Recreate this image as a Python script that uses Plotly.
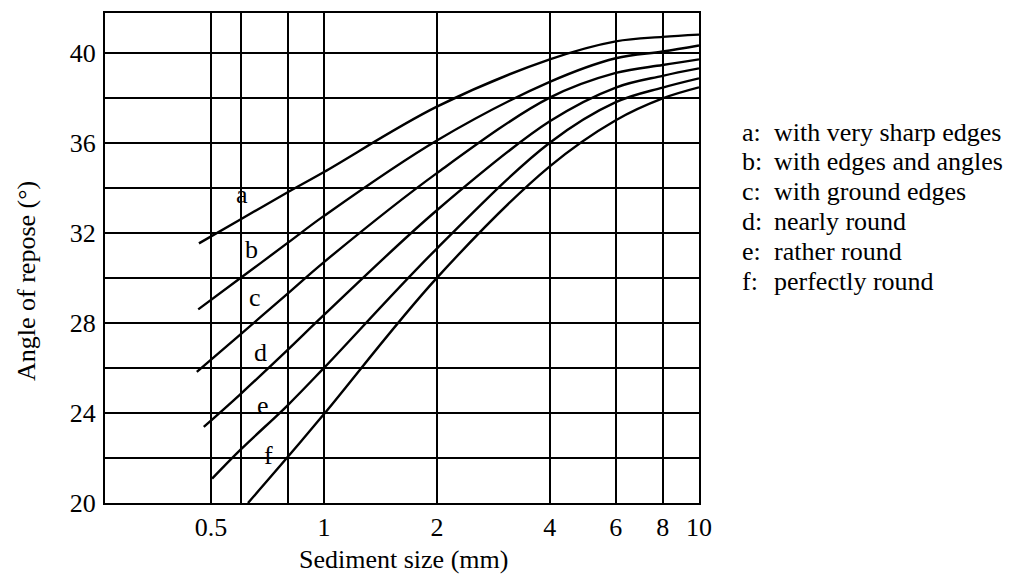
import plotly.graph_objects as go

# Angle of repose (deg) against sediment size (mm) for six particle shapes
size_a = [0.464, 0.6, 0.8, 1, 2, 4, 6, 8, 10]
angle_a = [31.53, 32.6, 33.8, 34.7, 37.6, 39.7, 40.5, 40.7, 40.8]
size_b = [0.462, 0.6, 0.8, 1, 2, 4, 6, 8, 10]
angle_b = [28.6, 30.0, 31.55, 32.75, 36.1, 38.7, 39.75, 40.05, 40.32]
size_c = [0.458, 0.6, 0.8, 1, 2, 4, 6, 8, 10]
angle_c = [25.82, 27.5, 29.3, 30.7, 34.65, 38.0, 39.1, 39.45, 39.7]
size_d = [0.478, 0.6, 0.8, 1, 2, 4, 6, 8, 10]
angle_d = [23.38, 24.85, 26.8, 28.35, 33.0, 36.95, 38.45, 38.97, 39.3]
size_e = [0.503, 0.6, 0.8, 1, 2, 4, 6, 8, 10]
angle_e = [21.08, 22.38, 24.34, 26.0, 31.3, 36.0, 37.8, 38.45, 38.86]
size_f = [0.627, 0.8, 1, 2, 4, 6, 8, 10]
angle_f = [20.0, 22.04, 23.95, 30.0, 34.95, 37.0, 37.97, 38.46]

curve_letters = ["a", "b", "c", "d", "e", "f"]
curve_names = [
    "with very sharp edges",
    "with edges and angles",
    "with ground edges",
    "nearly round",
    "rather round",
    "perfectly round",
]

x_tick_vals = [0.5, 0.6, 0.8, 1, 2, 4, 6, 8, 10]
x_tick_text = ["0.5", "", "", "1", "2", "4", "6", "8", "10"]
y_tick_vals = [20, 22, 24, 26, 28, 30, 32, 34, 36, 38, 40]
y_tick_text = ["20", "", "24", "", "28", "", "32", "", "36", "", "40"]

FONT = "Liberation Serif, Times New Roman, serif"
FS = 26

# figure geometry (pixels)
W, H = 1021, 575
L, R, T, B = 105, 699, 13, 503


def px_x(p):
    return (p - L) / (R - L)


def px_y(p):
    return (B - p) / (B - T)


fig = go.Figure()

series = [
    (size_a, angle_a), (size_b, angle_b), (size_c, angle_c),
    (size_d, angle_d), (size_e, angle_e), (size_f, angle_f),
]
for (sx, sy), letter in zip(series, curve_letters):
    fig.add_trace(go.Scatter(
        x=sx, y=sy, mode="lines", name=letter,
        line=dict(color="black", width=2.4, shape="spline", smoothing=1.0),
        hoverinfo="skip",
    ))

# white patches that break the grid behind the curve labels
gaps = [
    (232, 263, 170, 212),
    (242, 270, 226, 241),
    (248, 278, 359, 373),
    (253, 283, 406, 420),
    (258, 285, 452, 466),
]
for x0, x1, y0, y1 in gaps:
    fig.add_shape(type="rect", xref="paper", yref="paper",
                  x0=px_x(x0), x1=px_x(x1), y0=px_y(y1), y1=px_y(y0),
                  fillcolor="white", line=dict(width=0), layer="between")

# curve labels
label_pos = [(242, 194), (251.7, 249), (255, 297), (260, 352), (263.3, 405.5), (268, 455.5)]
for letter, (lx, ly) in zip(curve_letters, label_pos):
    fig.add_annotation(x=px_x(lx), y=px_y(ly), xref="paper", yref="paper",
                       text=letter, showarrow=False, xanchor="center", yanchor="middle",
                       font=dict(family=FONT, size=FS, color="black"))

# key to the curve letters
for i, (letter, name) in enumerate(zip(curve_letters, curve_names)):
    ky = 132 + 29.8 * i
    fig.add_annotation(x=px_x(740), y=px_y(ky), xref="paper", yref="paper",
                       text=letter + ":", showarrow=False, xanchor="left", yanchor="middle",
                       font=dict(family=FONT, size=FS, color="black"))
    fig.add_annotation(x=px_x(772), y=px_y(ky), xref="paper", yref="paper",
                       text=name, showarrow=False, xanchor="left", yanchor="middle",
                       font=dict(family=FONT, size=FS, color="black"))

# axis titles
fig.add_annotation(x=px_x(403), y=px_y(559), xref="paper", yref="paper",
                   text="Sediment size (mm)", showarrow=False,
                   xanchor="center", yanchor="middle",
                   font=dict(family=FONT, size=FS, color="black"))
fig.add_annotation(x=px_x(26), y=px_y(281), xref="paper", yref="paper",
                   text="Angle of repose (\u00b0)", showarrow=False, textangle=-90,
                   xanchor="center", yanchor="middle",
                   font=dict(family=FONT, size=FS, color="black"))

fig.update_xaxes(
    type="log", range=[-0.584, 1.0],
    tickvals=x_tick_vals, ticktext=x_tick_text,
    showgrid=True, gridcolor="black", gridwidth=1.6,
    showline=True, mirror=True, linecolor="black", linewidth=2,
    zeroline=False, ticks="", ticklabelstandoff=0,
    tickfont=dict(family=FONT, size=FS, color="black"),
)
fig.update_yaxes(
    range=[20, 41.76],
    tickvals=y_tick_vals, ticktext=y_tick_text,
    showgrid=True, gridcolor="black", gridwidth=1.6,
    showline=True, mirror=True, linecolor="black", linewidth=2,
    zeroline=False, ticks="", ticklabelstandoff=2,
    tickfont=dict(family=FONT, size=FS, color="black"),
)

fig.update_layout(
    width=W, height=H,
    margin=dict(l=L, r=W - R, t=T, b=H - B, pad=0),
    paper_bgcolor="white", plot_bgcolor="white",
    showlegend=False,
)

fig.write_html("out.html")
